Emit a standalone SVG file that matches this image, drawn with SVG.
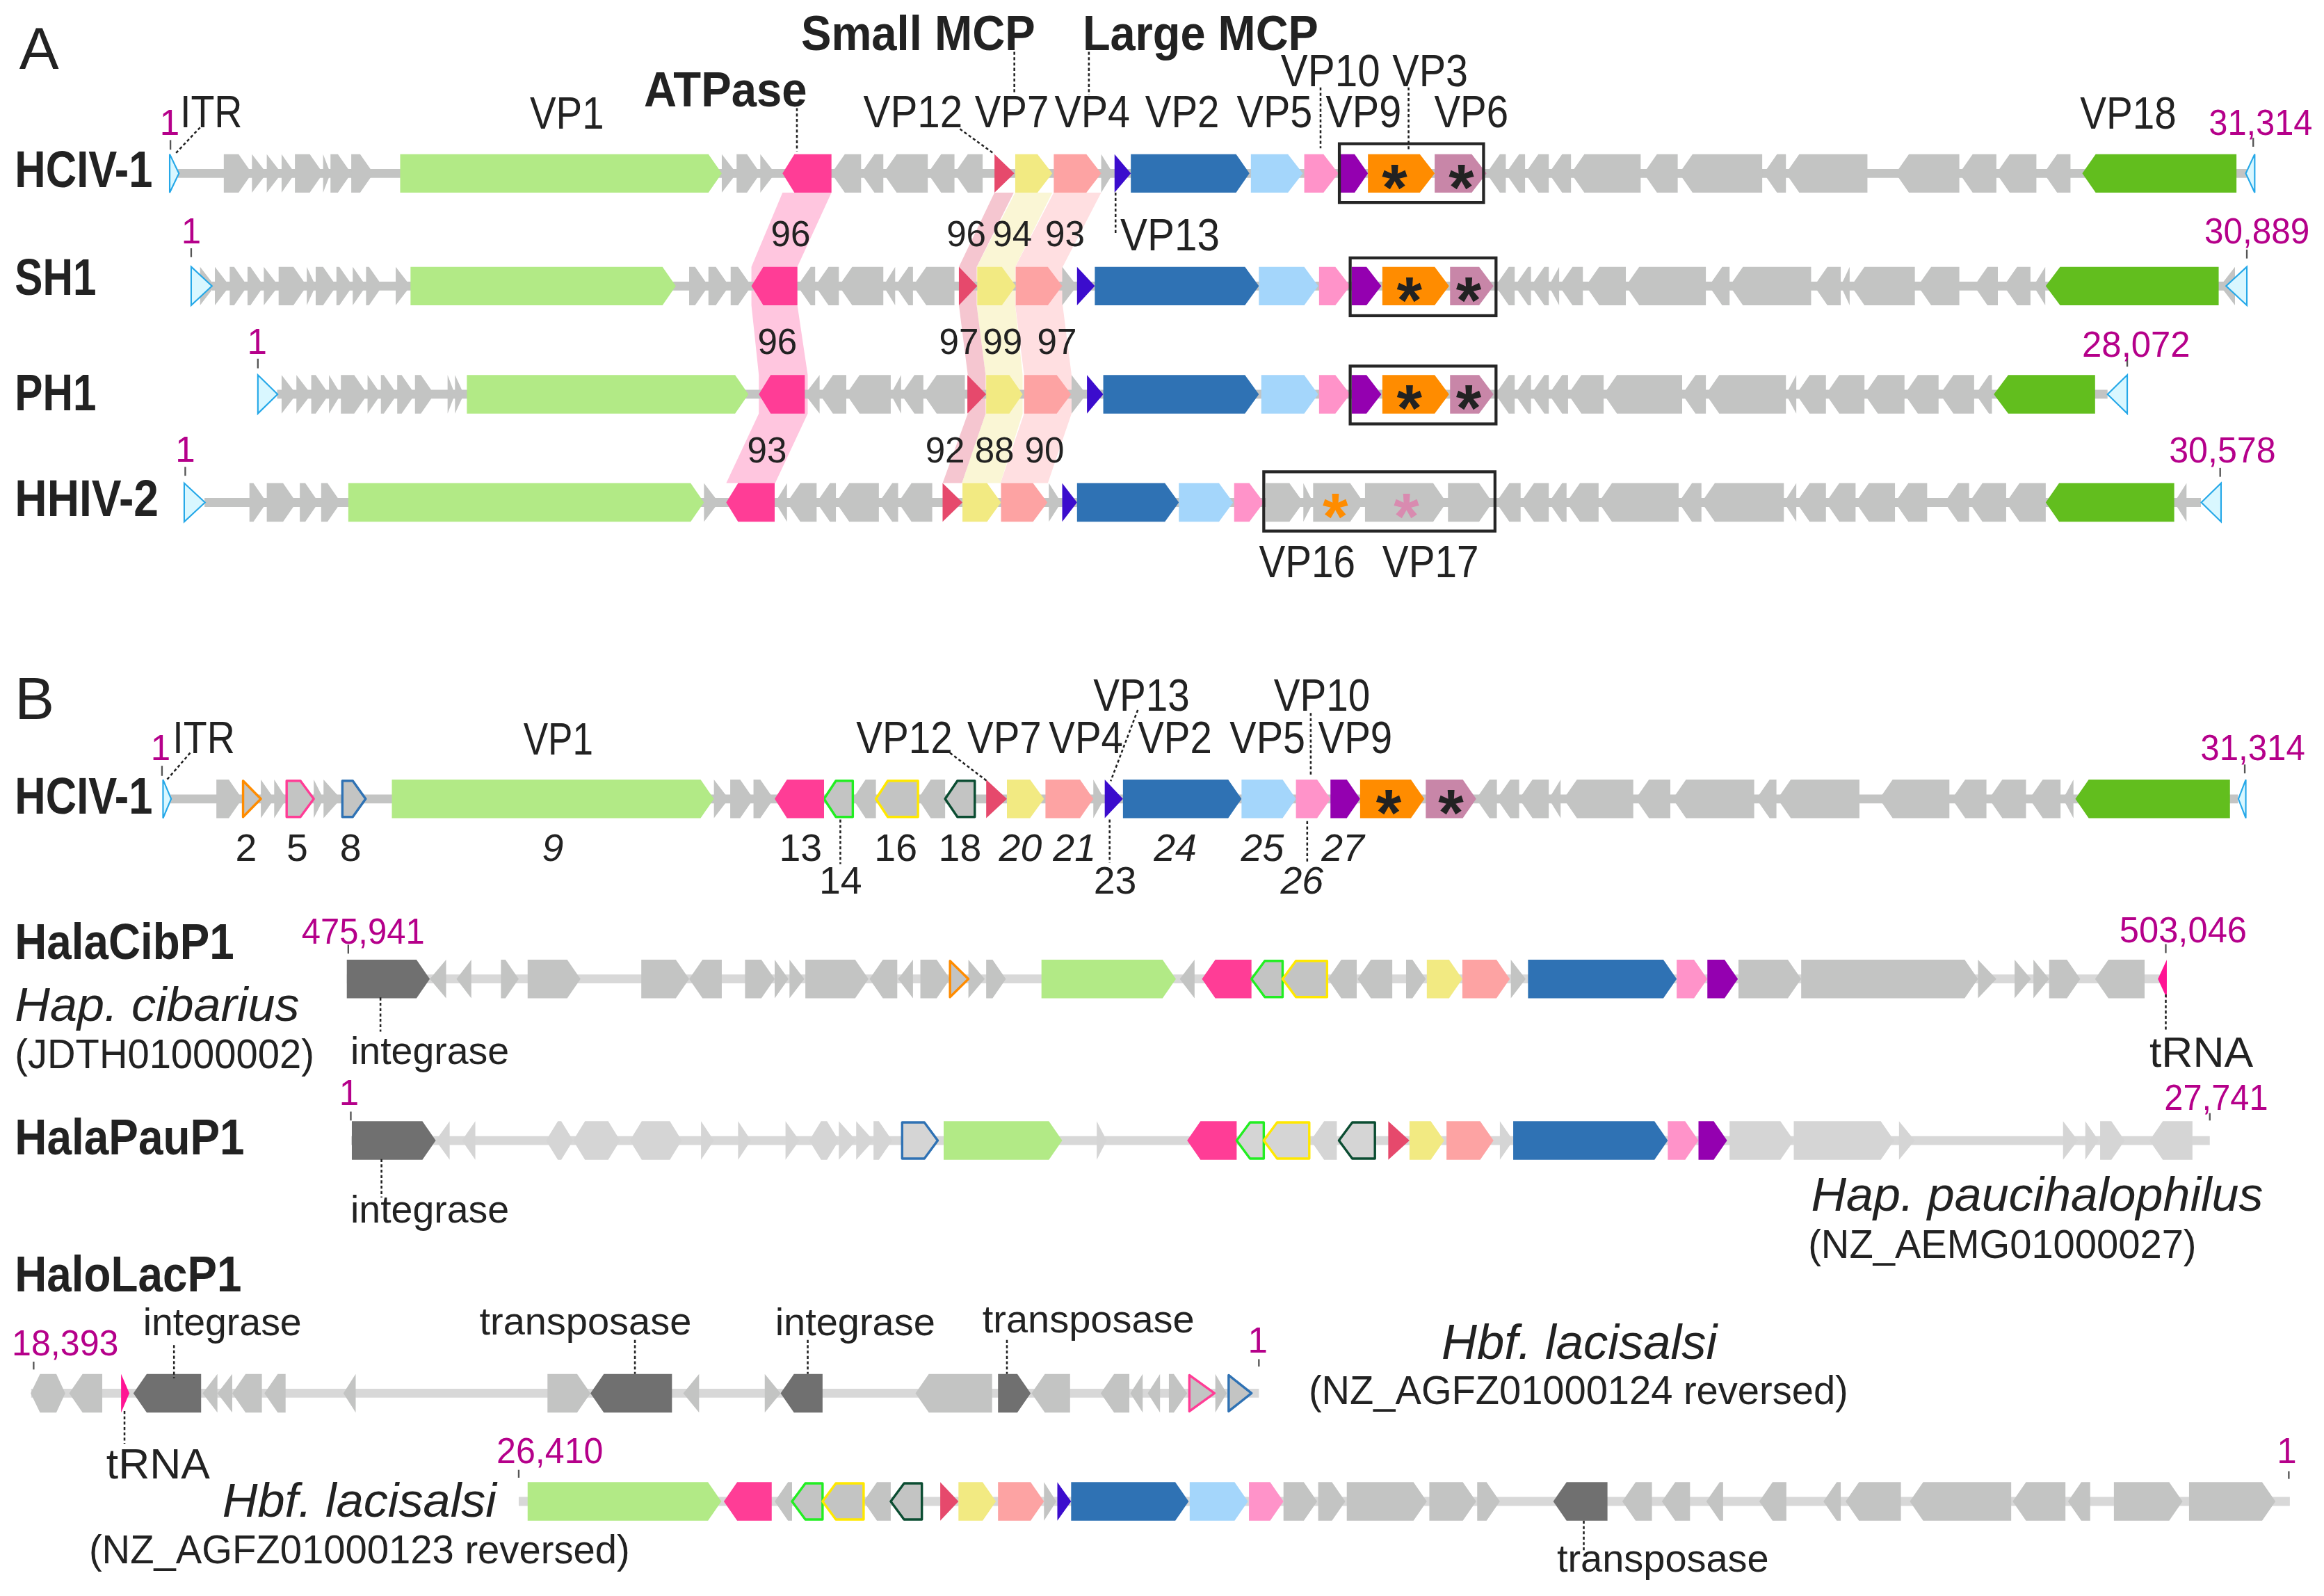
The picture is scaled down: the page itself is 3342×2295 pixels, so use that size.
<svg xmlns="http://www.w3.org/2000/svg" width="3342" height="2295" viewBox="0 0 3342 2295">
<style>
.t{font-family:"Liberation Sans",Arial,Helvetica,sans-serif;fill:#222;text-anchor:middle}
.f30{font-size:30px}
.bl{font-size:35px;font-weight:bold;text-anchor:start}
.bl2{font-size:34px;font-weight:bold;text-anchor:start}
.b33{font-size:33px;font-weight:bold}
.m{fill:#b5008a;font-size:24px}
.s{font-size:24px}
.n{font-size:26px}
.it{font-style:italic}
.ast{font-size:44px;font-weight:bold}
.g{fill:#c3c4c3}.lg{fill:#d5d5d5}.dk{fill:#707070}
.vp1{fill:#b2ea86}.vp18{fill:#62be1e}.atp{fill:#ff3d96}.vp12{fill:#e6496c}.vp7{fill:#f2ea82}
.vp4{fill:#fda3a3}.vp13{fill:#3b0ccd}.vp2{fill:#2f72b4}.vp5{fill:#a4d6fb}.vp10{fill:#ff93c9}
.vp9{fill:#9400b0}.vp3{fill:#ff8c00}.vp6{fill:#c886a8}.trna{fill:#ff1493}
.itr{fill:#d9f7ff;stroke:#25a8e8;stroke-width:1}
.o{stroke-width:1.6;stroke-linejoin:round}
.oor{stroke:#ff8c00}.opk{stroke:#ff3d96}.obl{stroke:#2f72b4}.ogr{stroke:#22ee22}.oye{stroke:#ffe800}.odg{stroke:#0b4d32}
.bb{stroke:#c3c4c3;stroke-width:6}
.bbl{stroke:#d8d8d8;stroke-width:6}
.box{fill:none;stroke:#262626;stroke-width:2}
.lead{stroke:#222;stroke-width:1.2;stroke-dasharray:2 1.6;fill:none}
.tick{stroke:#555;stroke-width:1.1}
</style>
<rect width="3342" height="2295" fill="#fff"/>
<g transform="scale(2.1313)">

<g id="bands">
<polygon fill="#ffc6df" points="528,130 561,130 538,180 538,206 545,253 545,279 523,326 490,326 512,279 512,253 507,206 507,180"/>
<polygon fill="#ffdfe1" points="711,130 743,130 717,180 717,206 723,253 723,279 707,326 675,326 691,279 691,253 685,206 685,180"/>
<polygon fill="#faf6d5" points="685,130 710,130 685,180 685,206 690,253 690,279 675,326 649,326 665,279 665,253 659,206 659,180"/>
<polygon fill="#f5c6d0" points="671,130 684,130 659,180 659,206 665,253 665,279 649,326 636,326 653,279 653,253 647,206 647,180"/>
</g>

<g id="row-A-HCIV1" transform="translate(0,104)">
<line class="bb" x1="120" y1="13" x2="1516" y2="13"/>
<path class="g" d="M151 0H161L170 13L161 26H151Z M170 0L180 13L170 26Z M180 0L190 13L180 26Z M190 0L199 13L190 26Z M199 0H209L218 13L209 26H199Z M218 0L223 13L218 26Z M223 0H228L237 13L228 26H223Z M237 0H243L252 13L243 26H237Z M487 0L497 13L487 26Z M497 0H504L513 13L504 26H497Z M513 0L523 13L513 26Z M581 0H570L561 13L570 26H581Z M596 0H590L581 13L590 26H596Z M626 0H605L596 13L605 26H626Z M644 0H635L626 13L635 26H644Z M663 0H653L644 13L653 26H663Z M743 0L751 13L743 26Z M1016 0H1012L1003 13L1012 26H1016Z M1029 0H1025L1016 13L1025 26H1029Z M1045 0H1038L1029 13L1038 26H1045Z M1060 0H1054L1045 13L1054 26H1060Z M1107 0H1069L1060 13L1069 26H1107Z M1132 0H1118L1109 13L1118 26H1132Z M1189 0H1142L1133 13L1142 26H1189Z M1205 0H1199L1190 13L1199 26H1205Z M1260 0H1214L1205 13L1214 26H1260Z M1322 0H1288L1279 13L1288 26H1322Z M1347 0H1331L1322 13L1331 26H1347Z M1374 0H1356L1347 13L1356 26H1374Z M1397 0H1388L1379 13L1388 26H1397Z"/>
<path class="itr" d="M114.5 0L120.7 13L114.5 26Z M1521.3 0L1515.3 13L1521.3 26Z"/>
<path class="vp1" d="M270 0H478L487 13L478 26H270Z"/>
<path class="atp" d="M561 0H536L528 13L536 26H561Z"/>
<path class="vp12" d="M671 0L684.4 13L671 26Z"/>
<path class="vp7" d="M685 0H700L710 13L700 26H685Z"/>
<path class="vp4" d="M711 0H733L743 13L733 26H711Z"/>
<path class="vp13" d="M752 0L763 13L752 26Z"/>
<path class="vp2" d="M763 0H834L843 13L834 26H763Z"/>
<path class="vp5" d="M844 0H869L879 13L869 26H844Z"/>
<path class="vp10" d="M880 0H893L903 13L893 26H880Z"/>
<path class="vp9" d="M904 0H914L923 13L914 26H904Z"/>
<path class="vp3" d="M923 0H958L968 13L958 26H923Z"/>
<path class="vp6" d="M968 0H993L1003 13L993 26H968Z"/>
<path class="vp18" d="M1509 0H1414L1405 13L1414 26H1509Z"/>
<text class="t ast" x="941" y="37.6">*</text>
<text class="t ast" x="986" y="37.6">*</text>
</g>

<g id="row-A-SH1" transform="translate(0,180)">
<line class="bb" x1="143" y1="13" x2="1503" y2="13"/>
<path class="g" d="M135 0L145 13L135 26Z M145 0L155 13L145 26Z M155 0H158L167 13L158 26H155Z M167 0H169L178 13L169 26H167Z M178 0L188 13L178 26Z M188 0H198L207 13L198 26H188Z M207 0L213 13L207 26Z M213 0H218L227 13L218 26H213Z M227 0H229L238 13L229 26H227Z M238 0L247 13L238 26Z M247 0H249L258 13L249 26H247Z M267 0L277 13L267 26Z M465 0H469L478 13L469 26H465Z M478 0H483L492 13L483 26H478Z M493 0H498L507 13L498 26H493Z M550 0H547L538 13L547 26H550Z M566 0H559L550 13L559 26H566Z M596 0H575L566 13L575 26H596Z M604 0L596 13L604 26Z M616 0H613L604 13L613 26H616Z M644 0H625L616 13L625 26H644Z M716.7 0L726.7 13L716.7 26Z M1022 0H1018L1009 13L1018 26H1022Z M1033 0H1031L1022 13L1031 26H1033Z M1045 0H1042L1033 13L1042 26H1045Z M1052 0L1045 13L1052 26Z M1068 0H1061L1052 13L1061 26H1068Z M1097 0H1079L1070 13L1079 26H1097Z M1151 0H1106L1097 13L1106 26H1151Z M1167 0H1162L1153 13L1162 26H1167Z M1222 0H1176L1167 13L1176 26H1222Z M1242 0H1233L1224 13L1233 26H1242Z M1248 0L1242 13L1248 26Z M1292 0H1258L1249 13L1258 26H1292Z M1322 0H1303L1294 13L1303 26H1322Z M1348 0H1341L1332 13L1341 26H1348Z M1370 0H1361L1352 13L1361 26H1370Z M1380 0L1372 13L1380 26Z M1508 0L1498 13L1508 26Z"/>
<path class="itr" d="M129 0L143 13L129 26Z M1516 0L1502 13L1516 26Z"/>
<path class="vp1" d="M277 0H447L456 13L447 26H277Z"/>
<path class="atp" d="M538 0H515L507 13L515 26H538Z"/>
<path class="vp12" d="M647 0L659.4 13L647 26Z"/>
<path class="vp7" d="M659.4 0H676L685.4 13L676 26H659.4Z"/>
<path class="vp4" d="M685.4 0H707L716.7 13L707 26H685.4Z"/>
<path class="vp13" d="M726.7 0L738.7 13L726.7 26Z"/>
<path class="vp2" d="M738.7 0H840L849.4 13L840 26H738.7Z"/>
<path class="vp5" d="M849.4 0H880L889.4 13L880 26H849.4Z"/>
<path class="vp10" d="M890 0H901L911 13L901 26H890Z"/>
<path class="vp9" d="M912 0H922L932 13L922 26H912Z"/>
<path class="vp3" d="M932.7 0H968L977.7 13L968 26H932.7Z"/>
<path class="vp6" d="M978.4 0H998L1007.7 13L998 26H978.4Z"/>
<path class="vp18" d="M1497 0H1390L1380.3 13L1390 26H1497Z"/>
<text class="t ast" x="951" y="37.6">*</text>
<text class="t ast" x="991" y="37.6">*</text>
</g>

<g id="row-A-PH1" transform="translate(0,253)">
<line class="bb" x1="187" y1="13" x2="1422" y2="13"/>
<path class="g" d="M190 0L200 13L190 26Z M200 0L210 13L200 26Z M210 0H213L222 13L213 26H210Z M222 0L230 13L222 26Z M230 0H239L248 13L239 26H230Z M248 0L257 13L248 26Z M257 0H259L268 13L259 26H257Z M268 0H271L280 13L271 26H268Z M280 0H284L293 13L284 26H280Z M302 0L307 13L302 26Z M307 0L313 13L307 26Z M553 0L543 13L553 26Z M571 0H562L553 13L562 26H571Z M601 0H580L571 13L580 26H601Z M608 0L601 13L608 26Z M623 0H617L608 13L617 26H623Z M651 0H632L623 13L632 26H651Z M723 0L733 13L723 26Z M1022 0H1018L1009 13L1018 26H1022Z M1033 0H1031L1022 13L1031 26H1033Z M1045 0H1042L1033 13L1042 26H1045Z M1058 0H1054L1045 13L1054 26H1058Z M1082 0H1067L1058 13L1067 26H1082Z M1135 0H1091L1082 13L1091 26H1135Z M1151 0H1144L1135 13L1144 26H1151Z M1205 0H1160L1151 13L1160 26H1205Z M1212 0L1205 13L1212 26Z M1232 0H1221L1212 13L1221 26H1232Z M1258 0H1241L1232 13L1241 26H1258Z M1285 0H1267L1258 13L1267 26H1285Z M1308 0H1294L1285 13L1294 26H1308Z M1332 0H1318L1309 13L1318 26H1332Z M1344 0H1342L1333 13L1342 26H1344Z"/>
<path class="itr" d="M174 0L187.3 13L174 26Z M1435.3 0L1422 13L1435.3 26Z"/>
<path class="vp1" d="M315 0H496L505 13L496 26H315Z"/>
<path class="atp" d="M543 0H520L512 13L520 26H543Z"/>
<path class="vp12" d="M652.7 0L665.4 13L652.7 26Z"/>
<path class="vp7" d="M665.4 0H681L690 13L681 26H665.4Z"/>
<path class="vp4" d="M691 0H713L722.7 13L713 26H691Z"/>
<path class="vp13" d="M733.4 0L744.4 13L733.4 26Z"/>
<path class="vp2" d="M744.4 0H840L849.4 13L840 26H744.4Z"/>
<path class="vp5" d="M851 0H880L889.4 13L880 26H851Z"/>
<path class="vp10" d="M890 0H901L911 13L901 26H890Z"/>
<path class="vp9" d="M912 0H922L932 13L922 26H912Z"/>
<path class="vp3" d="M932.7 0H968L977.7 13L968 26H932.7Z"/>
<path class="vp6" d="M978.4 0H998L1007.7 13L998 26H978.4Z"/>
<path class="vp18" d="M1413.6 0H1355L1345.3 13L1355 26H1413.6Z"/>
<text class="t ast" x="951" y="37.6">*</text>
<text class="t ast" x="991" y="37.6">*</text>
</g>

<g id="row-A-HHIV2" transform="translate(0,326)">
<line class="bb" x1="138" y1="13" x2="1485" y2="13"/>
<path class="g" d="M168.3 0H171L180 13L171 26H168.3Z M180 0H191L200 13L191 26H180Z M202.3 0H206L215 13L206 26H202.3Z M216.7 0H221L230 13L221 26H216.7Z M475 0L485 13L475 26Z M531 0L523 13L531 26Z M551 0H540L531 13L540 26H551Z M564 0H560L551 13L560 26H564Z M593 0H573L564 13L573 26H593Z M606 0H602L593 13L602 26H606Z M629 0H615L606 13L615 26H629Z M707.7 0L716 13L707.7 26Z M854 0H870L879.4 13L870 26H854Z M879.4 0L886 13L879.4 26Z M886 0H911L920 13L911 26H886Z M921 0H967L976 13L967 26H921Z M977 0H998L1007 13L998 26H977Z M1026 0H1018.4L1009.4 13L1018.4 26H1026Z M1045 0H1035L1026 13L1035 26H1045Z M1057 0H1054L1045 13L1054 26H1057Z M1078.6 0H1066L1057 13L1066 26H1078.6Z M1132.6 0H1087.6L1078.6 13L1087.6 26H1132.6Z M1148 0H1141.6L1132.6 13L1141.6 26H1148Z M1203.6 0H1157L1148 13L1157 26H1203.6Z M1212 0L1203.6 13L1212 26Z M1232 0H1221L1212 13L1221 26H1232Z M1252 0H1241L1232 13L1241 26H1252Z M1278.6 0H1261L1252 13L1261 26H1278.6Z M1300.3 0H1287.6L1278.6 13L1287.6 26H1300.3Z M1328.6 0H1321L1312 13L1321 26H1328.6Z M1353.6 0H1337.6L1328.6 13L1337.6 26H1353.6Z M1380.3 0H1362.6L1353.6 13L1362.6 26H1380.3Z M1475.3 0L1467 13L1475.3 26Z"/>
<path class="itr" d="M124.3 0L138.3 13L124.3 26Z M1498.6 0L1485.3 13L1498.6 26Z"/>
<path class="vp1" d="M235 0H466L475 13L466 26H235Z"/>
<path class="atp" d="M522.7 0H498L490 13L498 26H522.7Z"/>
<path class="vp12" d="M636 0L649.4 13L636 26Z"/>
<path class="vp7" d="M649.4 0H666L675.4 13L666 26H649.4Z"/>
<path class="vp4" d="M675.4 0H697L706.7 13L697 26H675.4Z"/>
<path class="vp13" d="M716.7 0L726.7 13L716.7 26Z"/>
<path class="vp2" d="M726.7 0H786L795.4 13L786 26H726.7Z"/>
<path class="vp5" d="M795.4 0H822.5L832 13L822.5 26H795.4Z"/>
<path class="vp10" d="M832.7 0H843L852.7 13L843 26H832.7Z"/>
<path class="vp18" d="M1467 0H1389.3L1380.3 13L1389.3 26H1467Z"/>
<text class="t ast" x="901" y="37.6" style="fill:#ff8c00">*</text>
<text class="t ast" x="949" y="37.6" style="fill:#d98bb0">*</text>
</g>

<g id="row-B-HCIV1" transform="translate(0,526)">
<line class="bb" x1="115" y1="13" x2="1510" y2="13"/>
<path class="g" d="M146 0H154.4L163.4 13L154.4 26H146Z M176 0L185 13L176 26Z M185 0L193.4 13L185 26Z M211.7 0L218.3 13L211.7 26Z M218.3 0L230 13L218.3 26Z M481.7 0L491.7 13L481.7 26Z M492.7 0H499.4L508.4 13L499.4 26H492.7Z M508.4 0H513L522 13L513 26H508.4Z M591 0H584L575.4 13L584 26H591Z M637.7 0H628L619.4 13L628 26H637.7Z M737.7 0L745 13L737.7 26Z M1010 0H1005L996 13L1005 26H1010Z M1025 0H1019L1010 13L1019 26H1025Z M1045 0H1034L1025 13L1034 26H1045Z M1053 0L1045 13L1053 26Z M1102 0H1064L1055 13L1064 26H1102Z M1127 0H1112.6L1103.6 13L1112.6 26H1127Z M1183.6 0H1137.6L1128.6 13L1137.6 26H1183.6Z M1198.6 0H1194L1185 13L1194 26H1198.6Z M1254.6 0H1208.3L1199.3 13L1208.3 26H1254.6Z M1315.3 0H1277L1268 13L1277 26H1315.3Z M1340.3 0H1326L1317 13L1326 26H1340.3Z M1367 0H1351L1342 13L1351 26H1367Z M1390.3 0H1378.3L1369.3 13L1378.3 26H1390.3Z M1399 0L1392 13L1399 26Z"/>
<path class="g o oor" d="M164 0.8L176 13L164 25.2Z"/>
<path class="g o opk" d="M193.4 0.8H202.7L211.7 13L202.7 25.2H193.4Z"/>
<path class="g o obl" d="M231 0.8H238L246.7 13L238 25.2H231Z"/>
<path class="g o ogr" d="M575.4 0.8H564L556 13L564 25.2H575.4Z"/>
<path class="g o oye" d="M619.4 0.8H599L591 13L599 25.2H619.4Z"/>
<path class="g o odg" d="M657.7 0.8H646L637.7 13L646 25.2H657.7Z"/>
<path class="itr" d="M110 0L115.5 13L110 26Z M1515.3 0L1510.3 13L1515.3 26Z"/>
<path class="vp1" d="M264.4 0H472.7L481.7 13L472.7 26H264.4Z"/>
<path class="atp" d="M556 0H531L522.7 13L531 26H556Z"/>
<path class="vp12" d="M665.4 0L679.4 13L665.4 26Z"/>
<path class="vp7" d="M679.4 0H695L704.4 13L695 26H679.4Z"/>
<path class="vp4" d="M705.4 0H728.7L737.7 13L728.7 26H705.4Z"/>
<path class="vp13" d="M745.4 0L757.7 13L745.4 26Z"/>
<path class="vp2" d="M757.7 0H828.7L837.7 13L828.7 26H757.7Z"/>
<path class="vp5" d="M837.7 0H865.4L874.4 13L865.4 26H837.7Z"/>
<path class="vp10" d="M874.4 0H888.7L897.7 13L888.7 26H874.4Z"/>
<path class="vp9" d="M897.7 0H908.7L917.7 13L908.7 26H897.7Z"/>
<path class="vp3" d="M917.7 0H952L961 13L952 26H917.7Z"/>
<path class="vp6" d="M962 0H987L996 13L987 26H962Z"/>
<path class="vp18" d="M1504.6 0H1409.3L1400.3 13L1409.3 26H1504.6Z"/>
<text class="t ast" x="937" y="37.6">*</text>
<text class="t ast" x="979" y="37.6">*</text>
</g>

<g id="row-B-HalaCibP1" transform="translate(0,647.5)">
<line class="bbl" x1="234" y1="13" x2="1462" y2="13"/>
<path class="g" d="M301 0L290 13L301 26Z M318 0L308 13L318 26Z M338 0H341L350 13L341 26H338Z M356 0H382.7L391.7 13L382.7 26H356Z M432.7 0H456L465 13L456 26H432.7Z M487 0H474L465 13L474 26H487Z M502.7 0H513.7L522.7 13L513.7 26H502.7Z M522.7 0L532 13L522.7 26Z M532.7 0L542.7 13L532.7 26Z M543.4 0H577L586 13L577 26H543.4Z M605.4 0H595.7L586.7 13L595.7 26H605.4Z M616 0L606 13L616 26Z M621 0H632L641 13L632 26H621Z M653.4 0L664.4 13L653.4 26Z M665.4 0H669.7L678.7 13L669.7 26H665.4Z M806 0L796 13L806 26Z M915.4 0H905L896 13L905 26H915.4Z M939.4 0H925L916 13L925 26H939.4Z M948.7 0H953L962 13L953 26H948.7Z M1019.4 0L1029.4 13L1019.4 26Z M1173 0H1206.3L1215.3 13L1206.3 26H1173Z M1215.3 0H1325.6L1334.6 13L1325.6 26H1215.3Z M1334.6 0L1347 13L1334.6 26Z M1359.3 0L1370.3 13L1359.3 26Z M1372 0L1382.6 13L1372 26Z M1382.6 0H1394.6L1403.6 13L1394.6 26H1382.6Z M1447 0H1422.6L1413.6 13L1422.6 26H1447Z"/>
<path class="dk" d="M234 0H281L290 13L281 26H234Z"/>
<path class="g o oor" d="M641 0.8L653.4 13L641 25.2Z"/>
<path class="vp1" d="M702.7 0H784.4L793.4 13L784.4 26H702.7Z"/>
<path class="atp" d="M844.4 0H820L811 13L820 26H844.4Z"/>
<path class="g o ogr" d="M865.4 0.8H853.4L844.4 13L853.4 25.2H865.4Z"/>
<path class="g o oye" d="M895.4 0.8H874.4L865.4 13L874.4 25.2H895.4Z"/>
<path class="vp7" d="M962.7 0H977.7L986.7 13L977.7 26H962.7Z"/>
<path class="vp4" d="M986.7 0H1009.7L1018.7 13L1009.7 26H986.7Z"/>
<path class="vp2" d="M1031 0H1122.3L1131.3 13L1122.3 26H1031Z"/>
<path class="vp10" d="M1131.3 0H1143L1152 13L1143 26H1131.3Z"/>
<path class="vp9" d="M1152 0H1163.6L1172.6 13L1163.6 26H1152Z"/>
<path class="trna" d="M1462 0L1456 13L1462 26Z"/>
</g>

<g id="row-B-HalaPauP1" transform="translate(0,756.5)">
<line class="bbl" x1="237" y1="13" x2="1491" y2="13"/>
<path class="lg" d="M303.4 0L294 13L303.4 26Z M320.7 0L311.7 13L320.7 26Z M368.4 13L376.4 0H378.7L386.7 13L378.7 26H376.4Z M386.7 13L394.7 0H410.4L418.4 13L410.4 26H394.7Z M425 13L433 0H452L460 13L452 26H433Z M473 0L481.7 13L473 26Z M498 0L506.7 13L498 26Z M530 0L539.4 13L530 26Z M546 13L554 0H558L566 13L558 26H554Z M566 0L577.7 13L566 26Z M577.7 0L589.4 13L577.7 26Z M589.4 0H593L602 13L593 26H589.4Z M740 0L746.7 13L740 26Z M902 0H893.4L884.4 13L893.4 26H902Z M1012 0L1021 13L1012 26Z M1167 0H1201.3L1210.3 13L1201.3 26H1167Z M1210.3 0H1269L1278 13L1269 26H1210.3Z M1281.3 0L1292 13L1281.3 26Z M1392 0L1402 13L1392 26Z M1407 0L1416 13L1407 26Z M1417 0H1424.6L1433.6 13L1424.6 26H1417Z M1479.3 0H1459.3L1450.3 13L1459.3 26H1479.3Z"/>
<path class="dk" d="M237.4 0H285L294 13L285 26H237.4Z"/>
<path class="lg o obl" d="M608.7 0.8H623.7L632.7 13L623.7 25.2H608.7Z"/>
<path class="vp1" d="M636.7 0H707.7L716.7 13L707.7 26H636.7Z"/>
<path class="atp" d="M834.4 0H810L801 13L810 26H834.4Z"/>
<path class="lg o ogr" d="M852.7 0.8H843.4L834.4 13L843.4 25.2H852.7Z"/>
<path class="lg o oye" d="M883.4 0.8H861.7L852.7 13L861.7 25.2H883.4Z"/>
<path class="lg o odg" d="M927.7 0.8H912.4L903.4 13L912.4 25.2H927.7Z"/>
<path class="vp12" d="M936.7 0L951 13L936.7 26Z"/>
<path class="vp7" d="M951 0H965.4L974.4 13L965.4 26H951Z"/>
<path class="vp4" d="M976 0H998.7L1007.7 13L998.7 26H976Z"/>
<path class="vp2" d="M1021 0H1116.3L1125.3 13L1116.3 26H1021Z"/>
<path class="vp10" d="M1125.3 0H1137L1146 13L1137 26H1125.3Z"/>
<path class="vp9" d="M1146 0H1156.3L1165.3 13L1156.3 26H1146Z"/>
</g>

<g id="row-B-HaloLacP1-a" transform="translate(0,927)">
<line class="bbl" x1="21" y1="13" x2="849.4" y2="13"/>
<path class="g" d="M20.7 13L27 0H38L44 13L38 26H27Z M69 0H55.7L46.7 13L55.7 26H69Z M146.7 0L136.7 13L146.7 26Z M156.7 0L146.7 13L156.7 26Z M176.7 0H165.7L156.7 13L165.7 26H176.7Z M192.7 0H187.4L178.4 13L187.4 26H192.7Z M240 0L231.7 13L240 26Z M369.4 0H389.4L398.4 13L389.4 26H369.4Z M471.7 0L461 13L471.7 26Z M516 0L526.7 13L516 26Z M669.4 0H626.7L617.7 13L626.7 26H669.4Z M722 0H705L696 13L705 26H722Z M762 0H751.7L742.7 13L751.7 26H762Z M771 0L762.7 13L771 26Z M782.7 0L774.4 13L782.7 26Z M788.7 0H792L801 13L792 26H788.7Z M820 0L827.7 13L820 26Z"/>
<path class="dk" d="M135.7 0H99L90 13L99 26H135.7Z M453.4 0H407.4L398.4 13L407.4 26H453.4Z M555 0H535.7L526.7 13L535.7 26H555Z M673.4 0H686.4L695.4 13L686.4 26H673.4Z"/>
<path class="trna" d="M81.7 0L87.3 13L81.7 26Z"/>
<path class="g o opk" d="M802.5 0.8L819.4 13L802.5 25.2Z"/>
<path class="g o obl" d="M829 0.8L844.4 13L829 25.2Z"/>
</g>

<g id="row-B-HaloLacP1-b" transform="translate(0,1000)">
<line class="bbl" x1="350" y1="13" x2="1545" y2="13"/>
<path class="g" d="M534.4 0H531.7L522.7 13L531.7 26H534.4Z M601 0H591.7L582.7 13L591.7 26H601Z M704.4 0L712.7 13L704.4 26Z M866 0H879.7L888.7 13L879.7 26H866Z M889.4 0H898.7L907.7 13L898.7 26H889.4Z M908.7 0H953.7L962.7 13L953.7 26H908.7Z M964.4 0H987L996 13L987 26H964.4Z M996.7 0H1003L1012 13L1003 26H996.7Z M1114.6 0H1103.6L1094.6 13L1103.6 26H1114.6Z M1140.3 0H1130.3L1121.3 13L1130.3 26H1140.3Z M1162.6 0H1160.3L1151.3 13L1160.3 26H1162.6Z M1205.3 0H1196L1187 13L1196 26H1205.3Z M1242 0H1239.3L1230.3 13L1239.3 26H1242Z M1282.6 0H1254.3L1245.3 13L1254.3 26H1282.6Z M1357 0H1297.6L1288.6 13L1297.6 26H1357Z M1393.6 0H1367L1358 13L1367 26H1393.6Z M1410.3 0H1404.3L1395.3 13L1404.3 26H1410.3Z M1426.3 0H1463.6L1472.6 13L1463.6 26H1426.3Z M1477 0H1526.3L1535.3 13L1526.3 26H1477Z"/>
<path class="dk" d="M1084.6 0H1057L1048 13L1057 26H1084.6Z"/>
<path class="vp1" d="M356 0H477.7L486.7 13L477.7 26H356Z"/>
<path class="atp" d="M520.7 0H497.4L488.4 13L497.4 26H520.7Z"/>
<path class="g o ogr" d="M555 0.8H543.4L534.4 13L543.4 25.2H555Z"/>
<path class="g o oye" d="M582.7 0.8H564L555 13L564 25.2H582.7Z"/>
<path class="g o odg" d="M622 0.8H610L601 13L610 25.2H622Z"/>
<path class="vp12" d="M634.4 0L646.7 13L634.4 26Z"/>
<path class="vp7" d="M646.7 0H663L672 13L663 26H646.7Z"/>
<path class="vp4" d="M673.4 0H695.4L704.4 13L695.4 26H673.4Z"/>
<path class="vp13" d="M713.4 0L722.7 13L713.4 26Z"/>
<path class="vp2" d="M722.7 0H793L802 13L793 26H722.7Z"/>
<path class="vp5" d="M802.7 0H833L842 13L833 26H802.7Z"/>
<path class="vp10" d="M842.7 0H857L866 13L857 26H842.7Z"/>
</g>

<g id="boxes">
<rect class="box" x="903.7" y="97" width="97.3" height="39.6"/>
<rect class="box" x="911" y="174" width="98.4" height="39"/>
<rect class="box" x="911" y="247" width="98.4" height="39"/>
<rect class="box" x="852.7" y="318.3" width="156" height="40"/>
</g>

<g id="connectors">
<line class="lead" x1="135" y1="86" x2="118" y2="104"/>
<line class="lead" x1="537.7" y1="73" x2="537.7" y2="102"/>
<line class="lead" x1="684.4" y1="35" x2="684.4" y2="63.6"/>
<line class="lead" x1="734.7" y1="35" x2="734.7" y2="64"/>
<line class="lead" x1="647.7" y1="87" x2="671" y2="104"/>
<line class="lead" x1="891" y1="59" x2="891" y2="100"/>
<line class="lead" x1="950.4" y1="59" x2="950.4" y2="101"/>
<line class="lead" x1="752.7" y1="130" x2="752.7" y2="158"/>
<line class="lead" x1="128.3" y1="508" x2="112.7" y2="526"/>
<line class="lead" x1="641" y1="508" x2="666" y2="527"/>
<line class="lead" x1="767.7" y1="479" x2="749.4" y2="527"/>
<line class="lead" x1="884.4" y1="481" x2="884.4" y2="523"/>
<line class="lead" x1="567" y1="553" x2="567" y2="583"/>
<line class="lead" x1="748.7" y1="553" x2="748.7" y2="582"/>
<line class="lead" x1="882" y1="554" x2="882" y2="582"/>
<line class="lead" x1="256.7" y1="673" x2="256.7" y2="696"/>
<line class="lead" x1="1461.3" y1="671" x2="1461.3" y2="695"/>
<line class="lead" x1="257.4" y1="782" x2="257.4" y2="808"/>
<line class="lead" x1="117.4" y1="907.5" x2="117.4" y2="930"/>
<line class="lead" x1="428.4" y1="904" x2="428.4" y2="927"/>
<line class="lead" x1="545" y1="904" x2="545" y2="927"/>
<line class="lead" x1="679.4" y1="904" x2="679.4" y2="927"/>
<line class="lead" x1="84" y1="952" x2="84" y2="974"/>
<line class="lead" x1="1068.6" y1="1026" x2="1068.6" y2="1047"/>
<line class="tick" x1="115" y1="94.5" x2="115" y2="101"/>
<line class="tick" x1="129" y1="167.5" x2="129" y2="173.5"/>
<line class="tick" x1="174" y1="242" x2="174" y2="248.5"/>
<line class="tick" x1="125" y1="315" x2="125" y2="321"/>
<line class="tick" x1="1520.3" y1="93" x2="1520.3" y2="99"/>
<line class="tick" x1="1516" y1="168.4" x2="1516" y2="174.4"/>
<line class="tick" x1="1435.3" y1="241.4" x2="1435.3" y2="247.4"/>
<line class="tick" x1="1498" y1="315.7" x2="1498" y2="321.7"/>
<line class="tick" x1="109.3" y1="516.7" x2="109.3" y2="523.5"/>
<line class="tick" x1="1514.6" y1="515.8" x2="1514.6" y2="521.8"/>
<line class="tick" x1="235" y1="637.4" x2="235" y2="643.4"/>
<line class="tick" x1="1461.3" y1="637" x2="1461.3" y2="643"/>
<line class="tick" x1="236.7" y1="750" x2="236.7" y2="756"/>
<line class="tick" x1="1491" y1="751" x2="1491" y2="756"/>
<line class="tick" x1="22.7" y1="918.7" x2="22.7" y2="924"/>
<line class="tick" x1="849.4" y1="917" x2="849.4" y2="922"/>
<line class="tick" x1="350" y1="991.7" x2="350" y2="997"/>
<line class="tick" x1="1544.3" y1="992.6" x2="1544.3" y2="997.8"/>
</g>

<g id="labels-A">
<text class="t" x="13" y="46.5" style="font-size:40px;text-anchor:start">A</text>
<text class="t bl" x="10" y="126" textLength="93" lengthAdjust="spacingAndGlyphs">HCIV-1</text>
<text class="t bl" x="10" y="199" textLength="55" lengthAdjust="spacingAndGlyphs">SH1</text>
<text class="t bl" x="10" y="277" textLength="55" lengthAdjust="spacingAndGlyphs">PH1</text>
<text class="t bl" x="10" y="348" textLength="97" lengthAdjust="spacingAndGlyphs">HHIV-2</text>
<text class="t m" x="114.5" y="91">1</text>
<text class="t f30" x="142.5" y="86" textLength="42" lengthAdjust="spacingAndGlyphs">ITR</text>
<text class="t f30" x="382.5" y="87" textLength="50" lengthAdjust="spacingAndGlyphs">VP1</text>
<text class="t b33" x="489.5" y="72" textLength="110" lengthAdjust="spacingAndGlyphs">ATPase</text>
<text class="t b33" x="619.5" y="34" textLength="158" lengthAdjust="spacingAndGlyphs">Small MCP</text>
<text class="t b33" x="810" y="34" textLength="159" lengthAdjust="spacingAndGlyphs">Large MCP</text>
<text class="t f30" x="616" y="86" textLength="67" lengthAdjust="spacingAndGlyphs">VP12</text>
<text class="t f30" x="682.7" y="86" textLength="50" lengthAdjust="spacingAndGlyphs">VP7</text>
<text class="t f30" x="737" y="86" textLength="51" lengthAdjust="spacingAndGlyphs">VP4</text>
<text class="t f30" x="797.7" y="86" textLength="50" lengthAdjust="spacingAndGlyphs">VP2</text>
<text class="t f30" x="860" y="86" textLength="51" lengthAdjust="spacingAndGlyphs">VP5</text>
<text class="t f30" x="920" y="86" textLength="51" lengthAdjust="spacingAndGlyphs">VP9</text>
<text class="t f30" x="992.7" y="86" textLength="50" lengthAdjust="spacingAndGlyphs">VP6</text>
<text class="t f30" x="897.7" y="58.4" textLength="67" lengthAdjust="spacingAndGlyphs">VP10</text>
<text class="t f30" x="965" y="58.4" textLength="51" lengthAdjust="spacingAndGlyphs">VP3</text>
<text class="t f30" x="1436" y="86.8" textLength="65" lengthAdjust="spacingAndGlyphs">VP18</text>
<text class="t m" x="1525.3" y="91" textLength="70" lengthAdjust="spacingAndGlyphs">31,314</text>
<text class="t f30" x="789.4" y="169" textLength="67" lengthAdjust="spacingAndGlyphs">VP13</text>
<text class="t m" x="129" y="164">1</text>
<text class="t m" x="1522.8" y="164" textLength="71" lengthAdjust="spacingAndGlyphs">30,889</text>
<text class="t s" x="533.5" y="166">96</text>
<text class="t s" x="652" y="166">96</text>
<text class="t s" x="683" y="166">94</text>
<text class="t s" x="718.6" y="166">93</text>
<text class="t m" x="173.5" y="239">1</text>
<text class="t s" x="524.5" y="239">96</text>
<text class="t s" x="647" y="239">97</text>
<text class="t s" x="676.5" y="239">99</text>
<text class="t s" x="713.2" y="239">97</text>
<text class="t m" x="1441.3" y="240.5" textLength="73" lengthAdjust="spacingAndGlyphs">28,072</text>
<text class="t m" x="125" y="311.4">1</text>
<text class="t s" x="517.5" y="312">93</text>
<text class="t s" x="637.7" y="312">92</text>
<text class="t s" x="671" y="312">88</text>
<text class="t s" x="704.7" y="312">90</text>
<text class="t m" x="1499.5" y="312" textLength="72" lengthAdjust="spacingAndGlyphs">30,578</text>
<text class="t f30" x="882" y="389.6" textLength="65" lengthAdjust="spacingAndGlyphs">VP16</text>
<text class="t f30" x="965.2" y="389.6" textLength="65" lengthAdjust="spacingAndGlyphs">VP17</text>
</g>

<g id="labels-B">
<text class="t" x="10" y="485" style="font-size:40px;text-anchor:start">B</text>
<text class="t f30" x="137.5" y="508" textLength="42" lengthAdjust="spacingAndGlyphs">ITR</text>
<text class="t m" x="108.4" y="513">1</text>
<text class="t f30" x="376.7" y="509" textLength="47" lengthAdjust="spacingAndGlyphs">VP1</text>
<text class="t f30" x="610.2" y="508" textLength="65" lengthAdjust="spacingAndGlyphs">VP12</text>
<text class="t f30" x="677.7" y="508" textLength="50" lengthAdjust="spacingAndGlyphs">VP7</text>
<text class="t f30" x="732.7" y="508" textLength="50" lengthAdjust="spacingAndGlyphs">VP4</text>
<text class="t f30" x="792.7" y="508" textLength="50" lengthAdjust="spacingAndGlyphs">VP2</text>
<text class="t f30" x="855.2" y="508" textLength="51" lengthAdjust="spacingAndGlyphs">VP5</text>
<text class="t f30" x="914.4" y="508" textLength="50" lengthAdjust="spacingAndGlyphs">VP9</text>
<text class="t f30" x="770.2" y="479.7" textLength="65" lengthAdjust="spacingAndGlyphs">VP13</text>
<text class="t f30" x="891.9" y="479.7" textLength="65" lengthAdjust="spacingAndGlyphs">VP10</text>
<text class="t m" x="1520" y="513" textLength="70.7" lengthAdjust="spacingAndGlyphs">31,314</text>
<text class="t bl" x="10" y="549" textLength="93" lengthAdjust="spacingAndGlyphs">HCIV-1</text>
<text class="t n" x="166" y="580.7">2</text>
<text class="t n" x="200.5" y="580.7">5</text>
<text class="t n" x="236.5" y="580.7">8</text>
<text class="t n it" x="373" y="580.7">9</text>
<text class="t n" x="540.2" y="580.7">13</text>
<text class="t n" x="604.4" y="580.7">16</text>
<text class="t n" x="647.7" y="580.7">18</text>
<text class="t n it" x="688.5" y="580.7">20</text>
<text class="t n it" x="725" y="580.7">21</text>
<text class="t n it" x="793" y="580.7">24</text>
<text class="t n it" x="851.8" y="580.7">25</text>
<text class="t n it" x="906" y="580.7">27</text>
<text class="t n" x="567.2" y="603">14</text>
<text class="t n" x="752.4" y="603">23</text>
<text class="t n it" x="878.5" y="603">26</text>

<text class="t bl2" x="10" y="647" textLength="148" lengthAdjust="spacingAndGlyphs">HalaCibP1</text>
<text class="t it" x="10" y="689" style="font-size:32.5px;text-anchor:start" textLength="192" lengthAdjust="spacingAndGlyphs">Hap. cibarius</text>
<text class="t" x="10" y="720.7" style="font-size:28px;text-anchor:start" textLength="202" lengthAdjust="spacingAndGlyphs">(JDTH01000002)</text>
<text class="t m" x="245" y="636.5" textLength="83" lengthAdjust="spacingAndGlyphs">475,941</text>
<text class="t n" x="290" y="718" textLength="107" lengthAdjust="spacingAndGlyphs">integrase</text>
<text class="t m" x="1473" y="635.7" textLength="86" lengthAdjust="spacingAndGlyphs">503,046</text>
<text class="t" x="1485.3" y="719.8" style="font-size:29px" textLength="70" lengthAdjust="spacingAndGlyphs">tRNA</text>

<text class="t m" x="235.5" y="745.6">1</text>
<text class="t bl2" x="10" y="779" textLength="155" lengthAdjust="spacingAndGlyphs">HalaPauP1</text>
<text class="t m" x="1495.3" y="749" textLength="70" lengthAdjust="spacingAndGlyphs">27,741</text>
<text class="t n" x="290" y="825" textLength="107" lengthAdjust="spacingAndGlyphs">integrase</text>
<text class="t it" x="1374.5" y="817" style="font-size:32.5px" textLength="305" lengthAdjust="spacingAndGlyphs">Hap. paucihalophilus</text>
<text class="t" x="1351" y="848.7" style="font-size:26.5px" textLength="262" lengthAdjust="spacingAndGlyphs">(NZ_AEMG01000027)</text>

<text class="t bl2" x="10" y="871.5" textLength="153" lengthAdjust="spacingAndGlyphs">HaloLacP1</text>
<text class="t m" x="44" y="914.4" textLength="72" lengthAdjust="spacingAndGlyphs">18,393</text>
<text class="t n" x="150" y="901" textLength="107" lengthAdjust="spacingAndGlyphs">integrase</text>
<text class="t n" x="395" y="900.3" textLength="143" lengthAdjust="spacingAndGlyphs">transposase</text>
<text class="t n" x="577" y="901" textLength="108" lengthAdjust="spacingAndGlyphs">integrase</text>
<text class="t n" x="734.4" y="899" textLength="143" lengthAdjust="spacingAndGlyphs">transposase</text>
<text class="t m" x="848.7" y="912.7">1</text>
<text class="t it" x="1065.6" y="917" style="font-size:33px" textLength="186" lengthAdjust="spacingAndGlyphs">Hbf. lacisalsi</text>
<text class="t" x="1065" y="947.4" style="font-size:26.6px" textLength="364" lengthAdjust="spacingAndGlyphs">(NZ_AGFZ01000124 reversed)</text>
<text class="t" x="106.7" y="997.7" style="font-size:29px" textLength="70" lengthAdjust="spacingAndGlyphs">tRNA</text>
<text class="t m" x="371" y="987.4" textLength="72" lengthAdjust="spacingAndGlyphs">26,410</text>
<text class="t it" x="242.5" y="1023.5" style="font-size:32px" textLength="185" lengthAdjust="spacingAndGlyphs">Hbf. lacisalsi</text>
<text class="t" x="242.5" y="1054.9" style="font-size:26.6px" textLength="365" lengthAdjust="spacingAndGlyphs">(NZ_AGFZ01000123 reversed)</text>
<text class="t m" x="1543" y="987">1</text>
<text class="t n" x="1122" y="1060.5" textLength="143" lengthAdjust="spacingAndGlyphs">transposase</text>
</g>

</g>
</svg>
